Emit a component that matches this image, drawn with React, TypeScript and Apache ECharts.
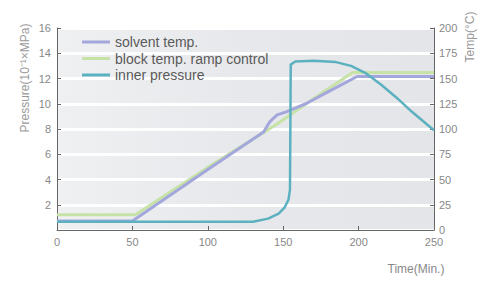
import React, { useEffect, useRef } from "react";
import * as echarts from "echarts";

const solventTime = [0, 50, 100, 137, 141, 146, 152, 165, 180, 199, 250];
const solventTemp = [9, 9, 60, 97, 107, 114, 117, 125, 137, 152, 152];

const blockTime = [0, 52, 100, 146, 170, 196, 250];
const blockTemp = [15, 15, 62, 105, 130, 156, 156];

const pressureTime = [0, 130, 140, 147, 151, 153.5, 154.5, 155, 158, 170, 185, 195, 205, 215, 225, 235, 245, 250];
const pressureValue = [0.65, 0.65, 0.9, 1.3, 1.8, 2.4, 3.2, 13.1, 13.35, 13.4, 13.3, 13.0, 12.4, 11.5, 10.5, 9.4, 8.4, 7.9];

const seriesNames = ["solvent temp.", "block temp. ramp control", "inner pressure"];
const xTicks = { min: 0, max: 250, interval: 50 };
const leftTicks = { min: 0, max: 16, interval: 2 };
const rightTicks = { min: 0, max: 200, interval: 25 };

const zip = (a: number[], b: number[]) => a.map((t, i) => [t, b[i]]);

const FONT = "Liberation Sans, Arial, sans-serif";

export default function App() {
  const ref = useRef<HTMLDivElement>(null);
  useEffect(() => {
    if (!ref.current) return;
    const chart = echarts.init(ref.current, undefined, { renderer: "svg" });
    const axisLine = { show: true, lineStyle: { color: "#666", width: 1 } };
    const axisTick = { show: true, inside: true, length: 4, lineStyle: { color: "#666" } };
    const axisLabel = { color: "#888", fontSize: 11, fontFamily: FONT };
    chart.setOption({
      animation: false,
      backgroundColor: "#ffffff",
      textStyle: { fontFamily: FONT },
      grid: {
        left: 57,
        right: 47,
        top: 28,
        bottom: 57,
        show: true,
        borderWidth: 0,
        backgroundColor: new echarts.graphic.LinearGradient(0, 0, 1, 0, [
          { offset: 0, color: "#eff0f2" },
          { offset: 0.5, color: "#e7e8eb" },
          { offset: 1, color: "#e3e5e8" },
        ]),
      },
      legend: {
        show: true,
        orient: "vertical",
        left: 77,
        top: 30,
        itemWidth: 28,
        itemHeight: 3,
        itemGap: 2.5,
        icon: "rect",
        textStyle: { color: "#5a5a5a", fontSize: 14, lineHeight: 14, fontFamily: FONT },
        data: seriesNames,
      },
      xAxis: {
        type: "value",
        ...xTicks,
        axisLine,
        axisTick,
        axisLabel: { ...axisLabel, margin: 6 },
        splitLine: { show: false },
      },
      yAxis: [
        {
          type: "value",
          position: "left",
          ...leftTicks,
          axisLine,
          axisTick,
          axisLabel: { ...axisLabel, margin: 6, showMinLabel: false },
          splitLine: { show: true, lineStyle: { color: "#ffffff", width: 3 } },
        },
        {
          type: "value",
          position: "right",
          ...rightTicks,
          axisLine,
          axisTick,
          axisLabel: { ...axisLabel, margin: 5 },
          splitLine: { show: false },
        },
      ],
      series: [
        {
          name: seriesNames[0],
          type: "line",
          yAxisIndex: 1,
          data: zip(solventTime, solventTemp),
          showSymbol: false,
          lineStyle: { color: "#a3a7dc", width: 3 },
          itemStyle: { color: "#a3a7dc" },
          z: 3,
        },
        {
          name: seriesNames[1],
          type: "line",
          yAxisIndex: 1,
          data: zip(blockTime, blockTemp),
          showSymbol: false,
          lineStyle: { color: "#c6e2a6", width: 3 },
          itemStyle: { color: "#c6e2a6" },
          z: 2,
        },
        {
          name: seriesNames[2],
          type: "line",
          yAxisIndex: 0,
          data: zip(pressureTime, pressureValue),
          showSymbol: false,
          lineStyle: { color: "#5cb1c0", width: 2.5 },
          itemStyle: { color: "#5cb1c0" },
          z: 4,
        },
      ],
      graphic: [
        {
          type: "text",
          x: 25,
          y: 78,
          rotation: Math.PI / 2,
          style: {
            text: "Pressure(10⁻¹×MPa)",
            fill: "#999",
            fontSize: 12,
            fontFamily: FONT,
            align: "center",
            verticalAlign: "middle",
          },
        },
        {
          type: "text",
          x: 470,
          y: 37,
          rotation: Math.PI / 2,
          style: {
            text: "Temp(°C)",
            fill: "#999",
            fontSize: 12,
            fontFamily: FONT,
            align: "center",
            verticalAlign: "middle",
          },
        },
        {
          type: "text",
          x: 416,
          y: 269,
          style: {
            text: "Time(Min.)",
            fill: "#888",
            fontSize: 12,
            fontFamily: FONT,
            align: "center",
            verticalAlign: "middle",
          },
        },
      ],
    });
    return () => chart.dispose();
  }, []);
  return <div ref={ref} style={{ width: 481, height: 287, position: "absolute", left: 0, top: 0 }} />;
}
